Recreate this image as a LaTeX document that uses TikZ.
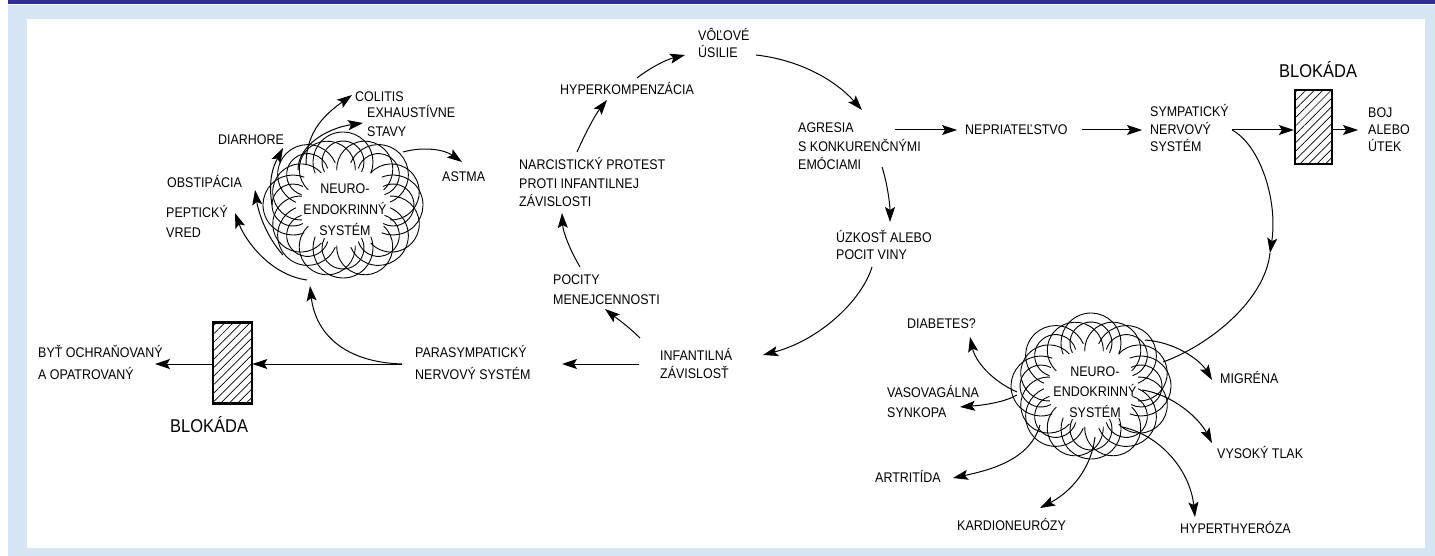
\documentclass[tikz,border=0pt]{standalone}
\usepackage{fontspec}
\setmainfont{Liberation Sans}[FakeStretch=0.89]
\usetikzlibrary{arrows.meta,calc,patterns.meta}
\definecolor{barblue}{HTML}{2E3192}
\definecolor{frameblue}{HTML}{D5E5F3}
\newcommand\lblfont{\fontsize{14}{18}\selectfont}
\newcommand\lblsp[1]{\fontsize{14}{#1}\selectfont}
\newcommand\loopcloud[1]{%
  \foreach \k in {0,...,7}{%
    \pgfmathsetmacro\tA{\k*45}%
    \pgfmathsetmacro\tB{\k*45+22.5}%
    \draw[cloudline] ($(#1)+(\tA:50 and 43)$) ++(\tA-112:30) arc[start angle=\tA-112, end angle=\tA+112, radius=30];
    \draw[cloudline] ($(#1)+(\tA:50 and 43)$) ++(\tA-118:21) arc[start angle=\tA-118, end angle=\tA+118, radius=21];
    \draw[cloudline] ($(#1)+(3,3)+(\tB:49 and 42)$) ++(\tB-115:28) arc[start angle=\tB-115, end angle=\tB+115, radius=28];
  }}
\begin{document}
\begin{tikzpicture}[x=1pt,y=-1pt,
  lbl/.style={font=\lblfont, inner sep=0pt, anchor=base west, align=left},
  ctext/.style={font=\lblsp{21}, inner sep=0pt, anchor=center, align=center},
  blklbl/.style={font=\fontsize{18.5}{22}\selectfont, inner sep=0pt, anchor=base west},
  blkbox/.style={draw, line width=2.2pt, pattern={Lines[angle=45,distance=6pt,line width=0.7pt]}, inner sep=0pt},
  arr/.style={line width=1pt, -{Stealth[length=15pt,width=10pt,inset=3pt]}},
  cloudline/.style={line width=0.9pt}]
\useasboundingbox (0,0) rectangle (1435,556);
% frame
\fill[white] (0,0) rectangle (1435,556);
\fill[frameblue] (8,5) rectangle (1435,556);
\fill[white] (27,19) rectangle (1425,548);
\fill[barblue] (8,0) rectangle (1435,4);

% clouds
\coordinate (cc1) at (343,205);
\coordinate (cc2) at (1091,386);
\loopcloud{cc1}
\loopcloud{cc2}

% main cycle nodes (anchor = baseline of the last line)
\node[lbl, font=\lblsp{17}] (VU) at (698,58) {VÔĽOVÉ\\ÚSILIE};
\node[lbl] (HYP) at (560,95) {HYPERKOMPENZÁCIA};
\node[lbl, font=\lblsp{18.5}] (NAR) at (519,207) {NARCISTICKÝ PROTEST\\PROTI INFANTILNEJ\\ZÁVISLOSTI};
\node[lbl, font=\lblsp{20}] (POC) at (553,304) {POCITY\\MENEJCENNOSTI};
\node[lbl] (INF) at (660,378) {INFANTILNÁ\\ZÁVISLOSŤ};
\node[lbl, font=\lblsp{17}] (UZK) at (836,259) {ÚZKOSŤ ALEBO\\POCIT VINY};
\node[lbl, font=\lblsp{18.5}] (AGR) at (798,170) {AGRESIA\\S KONKURENČNÝMI\\EMÓCIAMI};
\node[lbl] (NEP) at (965,135) {NEPRIATEĽSTVO};
\node[lbl, font=\lblsp{17.5}] (SYM) at (1150,152) {SYMPATICKÝ\\NERVOVÝ\\SYSTÉM};
\node[lbl, font=\lblsp{17}] (BOJ) at (1368,152) {BOJ\\ALEBO\\ÚTEK};
\node[lbl, font=\lblsp{22}] (PARA) at (415,379) {PARASYMPATICKÝ\\NERVOVÝ SYSTÉM};
\node[lbl, font=\lblsp{22}] (BYT) at (38,379) {BYŤ OCHRAŇOVANÝ\\A OPATROVANÝ};

% blockades
\node[blkbox, minimum width=39, minimum height=81] (B1) at (232.5,363) {};
\node[blklbl] (B1L) at (170,432) {BLOKÁDA};
\node[blkbox, minimum width=37, minimum height=74] (B2) at (1313.5,127) {};
\node[blklbl] (B2L) at (1279,78) {BLOKÁDA};

% left cloud labels
\node[ctext] (C1) at (345,210) {NEURO-\\ENDOKRINNÝ\\SYSTÉM};
\node[lbl] (COL) at (355,102) {COLITIS};
\node[lbl, font=\lblsp{19}] (EXH) at (367,137) {EXHAUSTÍVNE\\STAVY};
\node[lbl] (DIAR) at (218,145) {DIARHORE};
\node[lbl] (OBS) at (167,188) {OBSTIPÁCIA};
\node[lbl, font=\lblsp{20}] (PEP) at (166,237) {PEPTICKÝ\\VRED};
\node[lbl] (AST) at (442,182) {ASTMA};

% right cloud labels
\node[ctext, font=\lblsp{20.5}] (C2) at (1095,392) {NEURO-\\ENDOKRINNÝ\\SYSTÉM};
\node[lbl] (DIAB) at (907,328) {DIABETES?};
\node[lbl, font=\lblsp{20}] (VAS) at (887,417) {VASOVAGÁLNA\\SYNKOPA};
\node[lbl] (ART) at (875,482) {ARTRITÍDA};
\node[lbl] (KAR) at (957,530) {KARDIONEURÓZY};
\node[lbl] (HYT) at (1180,533) {HYPERTHYERÓZA};
\node[lbl] (VYS) at (1217,458) {VYSOKÝ TLAK};
\node[lbl] (MIG) at (1220,383) {MIGRÉNA};

% cycle arrows
\draw[arr] ($(VU.base west)+(58,-3)$) .. controls +(44,5) and +(-27,-30) .. ($(AGR.base west)+(64,-60)$);
\draw[arr] ($(HYP.base west)+(77,-17)$) .. controls +(13,-10) and +(-20,5) .. ($(VU.base west)+(-13,-3)$);
\draw[arr] ($(NAR.base west)+(58,-55)$) .. controls +(8,-18) and +(-12,15) .. ($(HYP.base west)+(47,5)$);
\draw[arr] ($(POC.base west)+(27,-37)$) .. controls +(-10,-17) and +(1,19) .. ($(NAR.base west)+(43,6)$);
\draw[arr] ($(INF.base west)+(-20,-40)$) .. controls +(-12,-12) and +(10,8) .. ($(POC.base west)+(52,5)$);
\draw[arr] ($(UZK.base west)+(36,8)$) .. controls +(-10,33) and +(57,-15) .. ($(INF.base west)+(103,-23)$);
\draw[arr] ($(AGR.base west)+(84,-3)$) .. controls +(5,15) and +(0,-18) .. ($(UZK.base west)+(54,-37)$);
\draw[arr] ($(AGR.base west)+(97,-40)$) -- ($(NEP.base west)+(-8,-5)$);
\draw[arr] ($(NEP.base west)+(117,-5)$) -- ($(SYM.base west)+(-8,-22)$);
\draw[arr] ($(SYM.base west)+(82,-22)$) -- ($(B2.west)+(0,3)$);
\draw[arr] ($(B2.east)+(0,3)$) -- ($(BOJ.base west)+(-10,-22)$);
\coordinate (SM) at (1270,253);
\draw[arr] ($(SYM.base west)+(82,-22)$) .. controls +(28,15) and +(8,-53) .. (SM);
\draw[line width=1pt] (SM) .. controls +(-5,47) and +(47,-17) .. ($(C2.center)+(68,-30)$);
\draw[arr] ($(INF.base west)+(-21,-14)$) -- ($(PARA.base west)+(147,-15)$);
\draw[arr] ($(PARA.base west)+(-13,-15)$) -- ($(B1.east)+(0,1)$);
\draw[arr] ($(B1.west)+(0,1)$) -- ($(BYT.base west)+(117,-15)$);
\draw[arr] ($(PARA.base west)+(-13,-15)$) .. controls +(-62,-2) and +(5,44) .. ($(C1.center)+(-35,76)$);

% left cloud arrows
\draw[arr] ($(C1.center)+(-39,-45)$) .. controls +(0,-35) and +(-25,18) .. ($(COL.base west)+(-3,-7)$);
\draw[arr] ($(C1.center)+(-47,-40)$) .. controls +(0,-25) and +(-35,5) .. ($(EXH.base west)+(-4,-14)$);
\draw[arr] ($(C1.center)+(58,-58)$) .. controls +(22,-6) and +(-17,-12) .. ($(AST.base west)+(20,-20)$);
\draw[arr] ($(C1.center)+(-73,-5)$) .. controls +(-4,-25) and +(-10,19) .. ($(DIAR.base west)+(65,3)$);
\draw[arr] ($(C1.center)+(-62,45)$) .. controls +(-18,-20) and +(3,20) .. ($(OBS.base west)+(88,2)$);
\draw[arr] ($(C1.center)+(-38,70)$) .. controls +(-37,-5) and +(10,27) .. ($(PEP.base west)+(69,-24)$);

% right cloud arrows
\draw[arr] ($(C2.center)+(-78,0)$) .. controls +(-27,-12) and +(5,23) .. ($(DIAB.base west)+(63,9)$);
\draw[arr] ($(C2.center)+(-78,3)$) .. controls +(-12,7) and +(25,-2) .. ($(VAS.base west)+(73,-10)$);
\draw[arr] ($(C2.center)+(-55,33)$) .. controls +(-10,35) and +(37,-8) .. ($(ART.base west)+(78,-4)$);
\draw[arr] ($(C2.center)+(0,45)$) .. controls +(-5,38) and +(25,-13) .. ($(KAR.base west)+(83,-22)$);
\draw[arr] ($(C2.center)+(27,35)$) .. controls +(38,8) and +(-5,-47) .. ($(HYT.base west)+(15,-16)$);
\draw[arr] ($(C2.center)+(47,-2)$) .. controls +(33,5) and +(-12,-23) .. ($(VYS.base west)+(-5,-15)$);
\draw[arr] ($(C2.center)+(50,-52)$) .. controls +(30,2) and +(-12,-20) .. ($(MIG.base west)+(-8,-3)$);
\end{tikzpicture}
\end{document}
